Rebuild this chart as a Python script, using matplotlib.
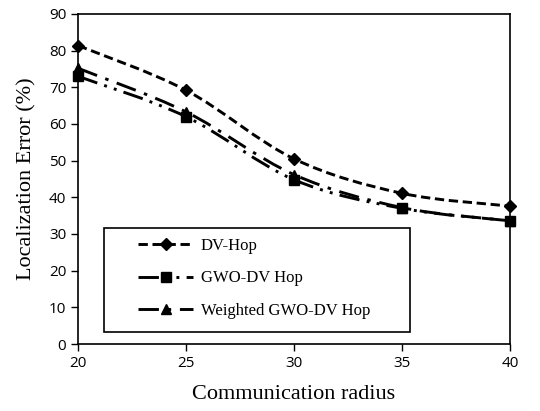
import numpy as np
import matplotlib
matplotlib.use("Agg")
import matplotlib.pyplot as plt
from matplotlib.path import Path
from matplotlib.patches import PathPatch, Rectangle
from matplotlib.lines import Line2D

radius = [20, 25, 30, 35, 40]
dv_hop = [81.4, 69.2, 50.5, 41.1, 37.6]
gwo_dv_hop = [73.0, 62.0, 44.8, 37.0, 33.6]
weighted_gwo = [75.2, 63.3, 46.2, 37.2, 33.6]

labels = ["DV-Hop", "GWO-DV Hop", "Weighted GWO-DV Hop"]
markers = ["D", "s", "^"]
marker_sizes = [6.5, 7.5, 7.5]
dashes = [(3.2, 1.6), (7, 2.5, 1, 2.5, 1, 2.5), (7, 3, 1.2, 3)]


def smooth_path(x, y):
    # Excel-style smoothed line: cubic bezier segments, Catmull-Rom controls
    pts = np.column_stack([x, y]).astype(float)
    n = len(pts)
    verts = [pts[0]]
    codes = [Path.MOVETO]
    for i in range(n - 1):
        p0 = pts[max(i - 1, 0)]
        p1 = pts[i]
        p2 = pts[i + 1]
        p3 = pts[min(i + 2, n - 1)]
        c1 = p1 + (p2 - p0) / 6
        c2 = p2 - (p3 - p1) / 6
        verts += [c1, c2, p2]
        codes += [Path.CURVE4] * 3
    return Path(verts, codes)


fig = plt.figure(figsize=(5.4, 4.11), dpi=100)
ax = fig.add_axes([0.1444, 0.163, 0.8, 0.803])

handles = []
for y, lab, m, ms, d in zip([dv_hop, gwo_dv_hop, weighted_gwo], labels, markers, marker_sizes, dashes):
    patch = PathPatch(smooth_path(radius, y), facecolor="none", edgecolor="black",
                      linewidth=2.1, linestyle=(0, d))
    ax.add_patch(patch)
    ax.plot(radius, y, linestyle="none", marker=m, markersize=ms, color="black", clip_on=False)
    handles.append(Line2D([], [], color="black", linewidth=2.1, linestyle=(0, d),
                          marker=m, markersize=ms))

ax.set_xlim(20, 40)
ax.set_ylim(0, 90)
ax.set_xticks(radius)
ax.set_yticks(np.arange(0, 91, 10))
ax.tick_params(direction="out", length=5, width=1, color="black", labelsize=11)
for t in ax.get_xticklabels() + ax.get_yticklabels():
    t.set_fontfamily("Open Sans")
for s in ax.spines.values():
    s.set_linewidth(1.2)
    s.set_color("black")

ax.set_xlabel("Communication radius", fontfamily="Liberation Serif", fontsize=16, labelpad=10)
ax.set_ylabel("Localization Error (%)", fontfamily="Liberation Serif", fontsize=16, labelpad=9)

# legend box drawn separately so it can be wider than its contents
ax.add_patch(Rectangle((0.0602, 0.0364), 0.708, 0.315, transform=ax.transAxes,
                       facecolor="white", edgecolor="black", linewidth=1.2, zorder=4))
leg = ax.legend(handles, labels, loc="upper left", bbox_to_anchor=(0.139, 0.322),
                prop={"family": "Liberation Serif", "size": 12}, frameon=False,
                handlelength=3.3, handletextpad=0.45, labelspacing=1.0, borderpad=0,
                borderaxespad=0)
leg.set_zorder(5)

fig.savefig("out.png", dpi=100)
